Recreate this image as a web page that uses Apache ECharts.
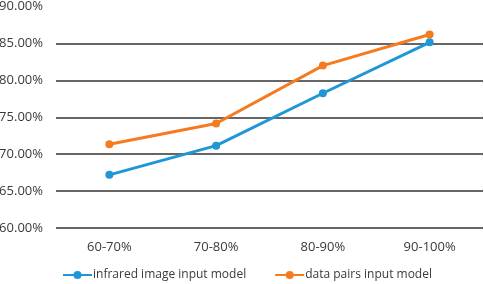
<!DOCTYPE html>
<html><head><meta charset="utf-8">
<script src="https://cdn.jsdelivr.net/npm/echarts@6/dist/echarts.min.js"></script>
<style>html,body{margin:0;padding:0;background:#fff}#c{width:484px;height:284px}</style>
</head><body><div id="c"></div>
<script>
var categories = ['60-70%', '70-80%', '80-90%', '90-100%'];
var infraredValues = [67.2, 71.15, 78.25, 85.15];
var dataPairsValues = [71.35, 74.15, 82.0, 86.2];
var seriesNames = ['infrared image input model', 'data pairs input model'];
var chart = echarts.init(document.getElementById('c'));
var font = 'Open Sans';
chart.setOption({
  animation: false,
  grid: {left: 56, right: 1, top: 6.5, bottom: 56, outerBoundsMode: 'none', containLabel: false},
  legend: {
    top: 269, left: 62, padding: 0, itemGap: 28, itemWidth: 29, itemHeight: 10,
    textStyle: {fontFamily: font, fontSize: 12, color: '#3a3a3a', padding: [0,0,0,-4]},
    data: seriesNames
  },
  xAxis: {
    type: 'category', data: categories,
    axisLine: {show: false}, axisTick: {show: false},
    axisLabel: {fontFamily: font, fontSize: 13, color: '#3a3a3a', margin: 13}
  },
  yAxis: {
    type: 'value', min: 60, max: 90, interval: 5,
    axisLabel: {fontFamily: font, fontSize: 13, color: '#3a3a3a', margin: 13,
      formatter: function(v){ return v.toFixed(2) + '%'; }},
    splitLine: {lineStyle: {color: '#333', width: 1.5}, showMaxLine: false},
    axisLine: {show: false}, axisTick: {show: false}
  },
  series: [
    {name: seriesNames[0], type: 'line', data: infraredValues, symbol: 'circle', symbolSize: 8,
     itemStyle: {color: '#1F97D6'}, lineStyle: {width: 3}},
    {name: seriesNames[1], type: 'line', data: dataPairsValues, symbol: 'circle', symbolSize: 8,
     itemStyle: {color: '#F47B20'}, lineStyle: {width: 3}}
  ]
});
</script></body></html>
